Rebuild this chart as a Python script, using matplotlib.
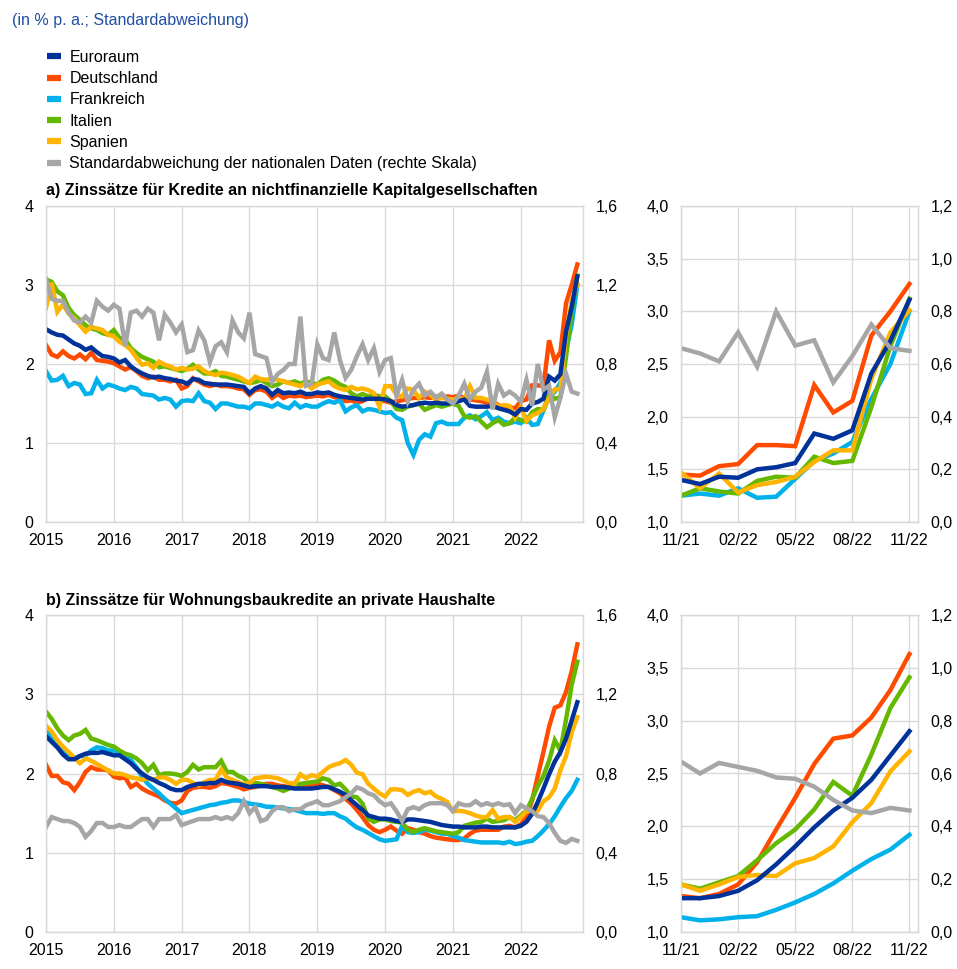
import numpy as np
import matplotlib
matplotlib.use("Agg")
import matplotlib.pyplot as plt
from matplotlib.lines import Line2D
from matplotlib.ticker import FuncFormatter

plt.rcParams['font.family'] = ['Liberation Sans', 'DejaVu Sans']

# ---------------- data ----------------
series_names = ["Euroraum", "Deutschland", "Frankreich", "Italien", "Spanien",
                "Standardabweichung der nationalen Daten (rechte Skala)"]
colors = ["#003299", "#FF4B00", "#00B1EA", "#65B800", "#FFB400", "#A6A6A6"]

years = ["2015", "2016", "2017", "2018", "2019", "2020", "2021", "2022"]
zoom_labels = ["11/21", "02/22", "05/22", "08/22", "11/22"]

# a) loans to non-financial corporations, monthly Jan 2015 - Nov 2022
EA_a = [2.44,2.40,2.37,2.36,2.31,2.26,2.23,2.18,2.21,2.15,2.10,2.09,
        2.07,2.02,2.05,1.97,1.92,1.88,1.85,1.83,1.84,1.82,1.81,1.79,
        1.78,1.75,1.81,1.80,1.76,1.75,1.74,1.74,1.74,1.73,1.72,1.71,
        1.63,1.69,1.72,1.69,1.61,1.67,1.63,1.64,1.63,1.65,1.62,1.62,
        1.64,1.63,1.64,1.61,1.59,1.58,1.57,1.56,1.55,1.56,1.56,1.56,
        1.55,1.53,1.48,1.46,1.47,1.48,1.50,1.51,1.50,1.51,1.50,1.50,
        1.51,1.53,1.55,1.47,1.46,1.46,1.46,1.47,1.44,1.42,
        1.40,1.36,1.43,1.42,1.50,1.52,1.56,1.84,1.79,1.87,2.41,2.72,3.11]
DE_a = [2.24,2.12,2.09,2.16,2.10,2.07,2.12,2.06,2.14,2.05,2.04,2.03,
        2.01,1.97,1.93,1.96,1.91,1.85,1.82,1.84,1.80,1.80,1.78,1.80,
        1.69,1.72,1.82,1.78,1.74,1.72,1.74,1.72,1.72,1.71,1.69,1.68,
        1.61,1.67,1.68,1.65,1.57,1.62,1.57,1.60,1.59,1.60,1.58,1.59,
        1.60,1.59,1.61,1.58,1.57,1.53,1.54,1.51,1.53,1.57,1.56,1.54,
        1.53,1.51,1.53,1.54,1.56,1.57,1.57,1.58,1.57,1.59,1.57,1.59,
        1.58,1.60,1.57,1.55,1.54,1.53,1.51,1.53,1.48,1.44,
        1.45,1.44,1.53,1.55,1.73,1.73,1.72,2.30,2.04,2.15,2.77,3.00,3.26]
FR_a = [1.91,1.79,1.80,1.85,1.72,1.76,1.74,1.62,1.63,1.80,1.69,1.74,
        1.72,1.69,1.67,1.71,1.69,1.62,1.61,1.60,1.55,1.57,1.55,1.46,
        1.53,1.54,1.53,1.63,1.53,1.51,1.43,1.50,1.50,1.48,1.46,1.46,
        1.44,1.50,1.50,1.48,1.46,1.50,1.46,1.44,1.51,1.45,1.48,1.46,
        1.46,1.50,1.53,1.51,1.54,1.40,1.45,1.48,1.40,1.43,1.42,1.40,
        1.38,1.39,1.32,1.29,1.00,0.85,1.04,1.11,1.08,1.25,1.27,1.24,
        1.24,1.24,1.32,1.35,1.30,1.34,1.39,1.29,1.32,1.27,
        1.25,1.27,1.25,1.32,1.23,1.24,1.41,1.58,1.65,1.76,2.17,2.50,3.00]
IT_a = [3.07,3.04,2.92,2.87,2.71,2.62,2.56,2.49,2.45,2.43,2.39,2.37,
        2.43,2.33,2.31,2.20,2.14,2.09,2.06,2.03,1.96,1.97,1.95,1.93,
        1.91,1.94,1.99,1.93,1.88,1.88,1.91,1.85,1.84,1.82,1.80,1.78,
        1.76,1.77,1.80,1.76,1.72,1.74,1.78,1.76,1.78,1.75,1.78,1.76,
        1.74,1.80,1.82,1.79,1.74,1.71,1.63,1.59,1.62,1.59,1.61,1.59,
        1.59,1.53,1.43,1.42,1.46,1.48,1.50,1.42,1.45,1.48,1.46,1.48,
        1.50,1.47,1.34,1.32,1.34,1.27,1.20,1.25,1.29,1.23,
        1.25,1.32,1.29,1.27,1.39,1.43,1.42,1.62,1.56,1.58,2.09,2.67,3.12]
ES_a = [2.71,3.03,2.66,2.75,2.64,2.58,2.49,2.41,2.47,2.45,2.43,2.37,
        2.35,2.28,2.24,2.18,2.08,1.99,2.01,1.95,2.03,1.99,1.97,1.93,
        1.95,1.93,1.94,1.97,1.91,1.88,1.86,1.89,1.88,1.86,1.84,1.80,
        1.76,1.84,1.81,1.80,1.82,1.80,1.78,1.76,1.74,1.72,1.76,1.69,
        1.74,1.76,1.78,1.72,1.69,1.67,1.71,1.68,1.69,1.67,1.63,1.46,
        1.72,1.72,1.61,1.59,1.69,1.67,1.57,1.65,1.61,1.55,1.57,1.56,
        1.55,1.57,1.55,1.72,1.57,1.57,1.55,1.53,1.46,1.48,
        1.47,1.32,1.46,1.28,1.35,1.38,1.43,1.57,1.68,1.68,2.36,2.80,3.01]
SD_a = [1.23,1.13,1.12,1.12,1.06,1.02,1.01,1.04,1.01,1.12,1.09,1.07,
        1.10,1.08,0.89,1.06,1.07,1.04,1.08,1.06,0.92,1.05,1.01,0.96,
        1.00,0.86,0.87,0.97,0.92,0.81,0.89,0.91,0.86,1.02,0.96,0.93,
        1.06,0.85,0.84,0.83,0.71,0.75,0.77,0.80,0.80,1.04,0.69,0.70,
        0.90,0.83,0.82,0.96,0.82,0.73,0.77,0.84,0.90,0.82,0.88,0.76,
        0.82,0.83,0.64,0.72,0.61,0.67,0.70,0.64,0.66,0.63,0.65,0.62,
        0.60,0.64,0.70,0.62,0.66,0.68,0.76,0.57,0.70,0.64,
        0.66,0.64,0.61,0.72,0.59,0.80,0.67,0.69,0.53,0.63,0.75,0.66,0.65]

# b) loans to households for house purchase
EA_b = [2.47,2.40,2.33,2.24,2.18,2.18,2.22,2.25,2.26,2.26,2.27,2.25,
        2.23,2.23,2.18,2.13,2.06,2.00,1.95,1.92,1.88,1.85,1.81,1.79,
        1.79,1.83,1.85,1.87,1.87,1.88,1.88,1.92,1.89,1.88,1.87,1.85,
        1.83,1.84,1.84,1.84,1.83,1.83,1.83,1.82,1.81,1.81,1.81,1.81,
        1.82,1.83,1.83,1.80,1.77,1.73,1.66,1.60,1.54,1.47,1.45,1.43,
        1.43,1.42,1.40,1.39,1.42,1.42,1.41,1.40,1.39,1.37,1.35,1.34,
        1.33,1.33,1.32,1.32,1.32,1.33,1.33,1.32,1.32,1.32,
        1.32,1.32,1.34,1.39,1.49,1.64,1.81,1.99,2.15,2.27,2.44,2.67,2.90]
DE_b = [2.11,1.97,1.97,1.89,1.87,1.79,1.89,2.02,2.08,2.05,2.05,2.04,
        1.96,1.94,1.95,1.83,1.87,1.81,1.77,1.74,1.71,1.66,1.63,1.62,
        1.66,1.78,1.82,1.83,1.83,1.82,1.84,1.88,1.87,1.85,1.83,1.80,
        1.82,1.83,1.85,1.87,1.87,1.85,1.84,1.83,1.85,1.83,1.85,1.85,
        1.87,1.85,1.83,1.79,1.75,1.68,1.62,1.54,1.45,1.35,1.29,1.26,
        1.29,1.33,1.28,1.24,1.31,1.29,1.26,1.24,1.21,1.19,1.18,1.17,
        1.16,1.16,1.18,1.24,1.28,1.29,1.29,1.29,1.29,1.33,
        1.34,1.32,1.36,1.45,1.66,1.97,2.27,2.59,2.83,2.86,3.03,3.29,3.63]
FR_b = [2.55,2.44,2.36,2.27,2.20,2.19,2.22,2.23,2.29,2.33,2.32,2.29,
        2.29,2.27,2.23,2.17,2.08,1.96,1.87,1.81,1.75,1.68,1.62,1.56,
        1.50,1.52,1.54,1.56,1.58,1.60,1.61,1.63,1.64,1.66,1.66,1.64,
        1.62,1.61,1.60,1.58,1.58,1.57,1.56,1.55,1.54,1.52,1.50,1.50,
        1.50,1.49,1.50,1.50,1.46,1.43,1.37,1.32,1.29,1.25,1.21,1.17,
        1.15,1.16,1.17,1.34,1.26,1.25,1.26,1.29,1.28,1.26,1.24,1.24,
        1.21,1.19,1.16,1.15,1.14,1.13,1.13,1.13,1.13,1.12,
        1.14,1.11,1.12,1.14,1.15,1.21,1.28,1.36,1.46,1.58,1.69,1.78,1.92]
IT_b = [2.78,2.69,2.57,2.48,2.42,2.48,2.50,2.55,2.44,2.42,2.39,2.36,
        2.34,2.29,2.25,2.23,2.19,2.13,2.04,2.11,1.98,2.00,2.00,1.99,
        1.97,2.02,2.11,2.05,2.08,2.08,2.08,2.16,2.02,2.02,1.97,1.94,
        1.87,1.88,1.87,1.85,1.83,1.81,1.78,1.81,1.85,1.87,1.88,1.89,
        1.90,1.94,1.92,1.85,1.87,1.80,1.71,1.70,1.62,1.43,1.39,1.42,
        1.42,1.40,1.39,1.38,1.29,1.26,1.29,1.31,1.29,1.27,1.26,1.25,
        1.24,1.26,1.34,1.36,1.38,1.39,1.43,1.39,1.40,1.41,
        1.45,1.41,1.47,1.53,1.68,1.84,1.97,2.16,2.42,2.29,2.68,3.12,3.41]
ES_b = [2.60,2.53,2.42,2.34,2.27,2.20,2.13,2.19,2.16,2.12,2.08,2.04,
        2.00,2.00,1.98,1.95,1.94,1.92,1.94,1.92,1.95,1.95,1.92,1.87,
        1.92,1.92,1.88,1.85,1.89,1.92,1.92,2.05,1.95,1.92,1.89,1.87,
        1.88,1.94,1.95,1.96,1.95,1.94,1.91,1.88,1.87,1.99,1.94,1.98,
        1.96,2.02,2.08,2.11,2.13,2.17,2.11,2.01,1.99,1.87,1.81,1.75,
        1.71,1.80,1.80,1.79,1.73,1.77,1.79,1.75,1.77,1.71,1.68,1.64,
        1.52,1.53,1.52,1.50,1.47,1.45,1.45,1.54,1.43,1.45,
        1.45,1.39,1.45,1.52,1.54,1.53,1.65,1.70,1.81,2.04,2.22,2.52,2.71]
SD_b = [0.53,0.58,0.57,0.56,0.56,0.55,0.53,0.48,0.51,0.55,0.55,0.53,
        0.53,0.54,0.53,0.53,0.55,0.57,0.57,0.53,0.57,0.57,0.57,0.59,
        0.54,0.55,0.56,0.57,0.57,0.57,0.58,0.57,0.58,0.57,0.60,0.66,
        0.60,0.63,0.56,0.57,0.61,0.63,0.63,0.61,0.62,0.62,0.64,0.65,
        0.66,0.64,0.64,0.65,0.66,0.68,0.70,0.73,0.72,0.70,0.69,0.66,
        0.64,0.65,0.61,0.56,0.62,0.63,0.62,0.64,0.65,0.65,0.65,0.64,
        0.61,0.65,0.64,0.64,0.66,0.64,0.65,0.64,0.65,0.64,
        0.645,0.60,0.64,0.625,0.61,0.585,0.58,0.55,0.50,0.46,0.45,0.47,0.46]

N_ZOOM = 13  # last 13 months (11/21 - 11/22) shown in the right panels

# ---------------- figure ----------------
W, H = 957, 969
fig = plt.figure(figsize=(W / 100, H / 100), dpi=100)

def fx(px):
    return px / W

def fy(py):
    return 1 - py / H

GRID = "#D9D9D9"
FS = 11.5

def comma(fmt):
    return FuncFormatter(lambda v, p: (fmt % v).replace(".", ","))

def style(ax):
    for s in ax.spines.values():
        s.set_color(GRID)
        s.set_linewidth(1.0)
    ax.tick_params(length=0, labelsize=FS, colors="black")
    ax.grid(True, color=GRID, linewidth=1.0)
    ax.set_axisbelow(True)

def panel(rect, data, sd, zoom, ylim_l, ystep_l, fmt_l, ylim_r, ystep_r, fmt_r):
    ax = fig.add_axes(rect)
    style(ax)
    if zoom:
        data = [d[-N_ZOOM:] for d in data]
        sd = sd[-N_ZOOM:]
    n = len(sd)
    x = np.arange(n)
    order = [1, 2, 3, 4, 0]
    for i in order:
        ax.plot(x, data[i], color=colors[i], lw=3.2, solid_joinstyle="miter", zorder=3 + (i == 0))
    ax.set_ylim(*ylim_l)
    ax.set_yticks(np.arange(ylim_l[0], ylim_l[1] + 1e-9, ystep_l))
    ax.yaxis.set_major_formatter(comma(fmt_l))
    if zoom:
        ax.set_xlim(0, 12.45)
        ax.set_xticks(np.arange(0, 13, 3))
        ax.set_xticklabels(zoom_labels)
    else:
        ax.set_xlim(0, 95)
        ax.set_xticks(np.arange(0, 96, 12))
        ax.set_xticklabels(years)
    ax.tick_params(axis="x", pad=8)
    ax.tick_params(axis="y", pad=9)
    ax2 = ax.twinx()
    for s in ax2.spines.values():
        s.set_color(GRID)
    ax2.tick_params(length=0, labelsize=FS, pad=9)
    ax2.plot(x, sd, color=colors[5], lw=3.2, solid_joinstyle="miter")
    ax2.set_ylim(*ylim_r)
    ax2.set_yticks(np.arange(ylim_r[0], ylim_r[1] + 1e-9, ystep_r))
    ax2.yaxis.set_major_formatter(comma(fmt_r))
    return ax

# positions (pixels)
LX0, LX1 = 46, 583
RX0, RX1 = 681, 918
TY0, TY1 = 206, 522
BY0, BY1 = 615, 932

data_a = [EA_a, DE_a, FR_a, IT_a, ES_a]
data_b = [EA_b, DE_b, FR_b, IT_b, ES_b]

panel([fx(LX0), fy(TY1), fx(LX1) - fx(LX0), fy(TY0) - fy(TY1)], data_a, SD_a, False,
      (0, 4), 1, "%.0f", (0, 1.6), 0.4, "%.1f")
panel([fx(RX0), fy(TY1), fx(RX1) - fx(RX0), fy(TY0) - fy(TY1)], data_a, SD_a, True,
      (1, 4), 0.5, "%.1f", (0, 1.2), 0.2, "%.1f")
panel([fx(LX0), fy(BY1), fx(LX1) - fx(LX0), fy(BY0) - fy(BY1)], data_b, SD_b, False,
      (0, 4), 1, "%.0f", (0, 1.6), 0.4, "%.1f")
panel([fx(RX0), fy(BY1), fx(RX1) - fx(RX0), fy(BY0) - fy(BY1)], data_b, SD_b, True,
      (1, 4), 0.5, "%.1f", (0, 1.2), 0.2, "%.1f")

# texts
fig.text(fx(12), fy(20), "(in % p. a.; Standardabweichung)", color="#1F4EA3",
         fontsize=FS, va="center", ha="left")
fig.text(fx(46), fy(190), "a) Zinssätze für Kredite an nichtfinanzielle Kapitalgesellschaften",
         fontsize=FS, fontweight="bold", va="center", ha="left")
fig.text(fx(46), fy(600), "b) Zinssätze für Wohnungsbaukredite an private Haushalte",
         fontsize=FS, fontweight="bold", va="center", ha="left")

handles = [Line2D([0], [0], color=c, lw=4.5, solid_capstyle="butt") for c in colors]
fig.legend(handles, series_names, loc="upper left", bbox_to_anchor=(fx(47), fy(50)),
           frameon=False, fontsize=FS, handlelength=0.9, handletextpad=0.5,
           labelspacing=0.39, borderpad=0, borderaxespad=0)

fig.savefig("out.png", dpi=100)
